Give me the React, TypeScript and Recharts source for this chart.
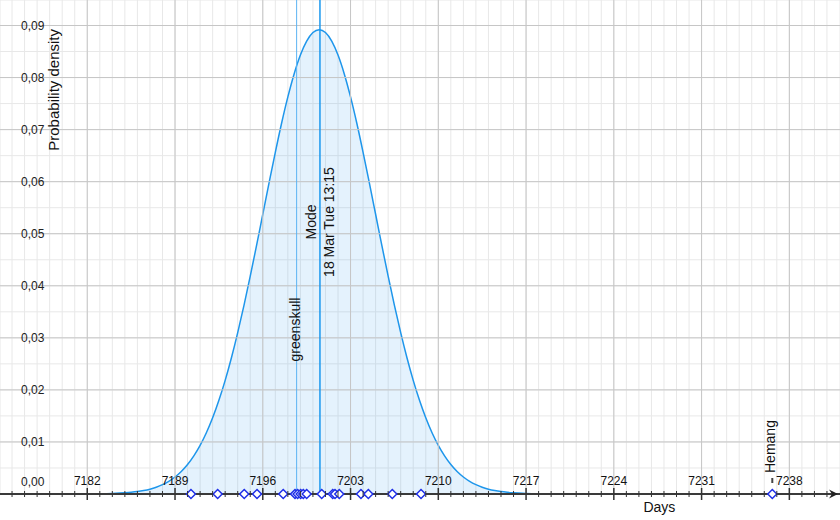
import {
  ComposedChart,
  Area,
  Scatter,
  XAxis,
  YAxis,
  CartesianGrid,
  ReferenceLine,
} from "recharts";

// density curve
const DAYS = [
  7182, 7183, 7184, 7185, 7185.5, 7186, 7186.5, 7187, 7187.5, 7188, 7188.5,
  7189, 7189.5, 7190, 7190.5, 7191, 7191.5, 7192, 7192.5, 7193, 7193.5, 7194,
  7194.5, 7195, 7195.5, 7196, 7196.5, 7197, 7197.5, 7198, 7198.5, 7199,
  7199.5, 7200, 7200.5, 7201, 7201.5, 7202, 7202.5, 7203, 7203.5, 7204,
  7204.5, 7205, 7205.5, 7206, 7206.5, 7207, 7207.5, 7208, 7208.5, 7209,
  7209.5, 7210, 7210.5, 7211, 7211.5, 7212, 7212.5, 7213, 7213.5, 7214,
  7214.5, 7215, 7215.5, 7216, 7217, 7218, 7219,
];
const DENSITY = [
  0.00002, 0.00004, 0.0001, 0.00022, 0.00032, 0.00046, 0.00066, 0.00093,
  0.0013, 0.00179, 0.00243, 0.00326, 0.00432, 0.00565, 0.00731, 0.00933,
  0.01176, 0.01463, 0.01799, 0.02183, 0.02618, 0.031, 0.03624, 0.04185,
  0.0477, 0.05374, 0.05976, 0.06564, 0.07122, 0.07628, 0.0807, 0.08432,
  0.087, 0.08865, 0.0892, 0.08865, 0.087, 0.08432, 0.0807, 0.07628, 0.07122,
  0.06564, 0.05976, 0.05374, 0.0477, 0.04185, 0.03624, 0.031, 0.02618,
  0.02183, 0.01799, 0.01463, 0.01176, 0.00933, 0.00731, 0.00565, 0.00432,
  0.00326, 0.00243, 0.00179, 0.0013, 0.00093, 0.00066, 0.00046, 0.00032,
  0.00022, 0.0001, 0.00004, 0.00002,
];

// individual guesses (diamonds on the axis)
const GUESS_DAYS = [
  7190.27, 7192.4, 7194.52, 7195.54, 7197.63, 7198.57, 7198.78, 7199.02,
  7199.23, 7199.5, 7200.7, 7201.58, 7201.76, 7202.1, 7203.83, 7204.42,
  7206.33, 7208.62, 7236.64,
];
const GUESS_NAMES = [
  "", "", "", "", "", "", "", "", "", "", "", "", "", "", "", "", "", "",
  "Hemang",
];

const LINE_DAYS = [7198.7, 7200.56];
const LINE_LABELS = [["greenskull"], ["Mode", "18 Mar Tue 13:15"]];
const LINE_COLORS = ["#5cb3f3", "#1b98ee"];

const MAJOR_DAYS = [7182, 7189, 7196, 7203, 7210, 7217, 7224, 7231, 7238];
const MINOR_DAYS = Array.from({ length: 66 }, (_, i) => 7176 + i);
const Y_TICKS = [
  0, 0.005, 0.01, 0.015, 0.02, 0.025, 0.03, 0.035, 0.04, 0.045, 0.05, 0.055,
  0.06, 0.065, 0.07, 0.075, 0.08, 0.085, 0.09,
];
const Y_MAJOR = [0.01, 0.02, 0.03, 0.04, 0.05, 0.06, 0.07, 0.08, 0.09];

const curveData = DAYS.map((d, i) => ({ day: d, density: DENSITY[i] }));
const guessData = GUESS_DAYS.map((d, i) => ({
  day: d,
  density: 0,
  name: GUESS_NAMES[i],
}));

const FONT = "'Liberation Sans', Arial, Helvetica, sans-serif";

function XTick({ x, y, payload }: any) {
  const major = MAJOR_DAYS.includes(payload.value);
  const h = major ? 6 : 3;
  return (
    <g>
      <line x1={x} x2={x} y1={y - h} y2={y + h} stroke="#333" strokeWidth={major ? 1.5 : 1} />
      {major && (
        <text x={x} y={y - 9} textAnchor="middle" fontSize={12} fill="#111">
          {payload.value}
        </text>
      )}
    </g>
  );
}

function YTick({ y, payload }: any) {
  const v = payload.value;
  const major = Math.abs(Math.round(v * 100) - v * 100) < 1e-6;
  if (!major) return <g />;
  return (
    <text x={21} y={v === 0 ? y - 8 : y + 4} textAnchor="start" fontSize={12} fill="#222">
      {v.toFixed(2).replace(".", ",")}
    </text>
  );
}

function GuessMark({ cx, cy, payload }: any) {
  const r = 4.5;
  return (
    <g>
      <polygon
        points={`${cx},${cy - r} ${cx + r},${cy} ${cx},${cy + r} ${cx - r},${cy}`}
        fill="#fff"
        stroke="#1f2fe8"
        strokeWidth={1.5}
      />
      {payload.name && (
        <g>
          <line x1={cx} x2={cx} y1={cy - 16} y2={cy - 11} stroke="#444" strokeWidth={2} />
          <text
            x={cx + 3}
            y={cy - 21}
            transform={`rotate(-90, ${cx + 3}, ${cy - 21})`}
            textAnchor="start"
            fontSize={14}
            fill="#111"
          >
            {payload.name}
          </text>
        </g>
      )}
    </g>
  );
}

function lineLabel(lines: string[]) {
  return ({ viewBox }: any) => {
    const x = viewBox.x;
    if (lines.length === 1) {
      const cy = 329.5;
      return (
        <text x={x + 3.5} y={cy} transform={`rotate(-90, ${x + 3.5}, ${cy})`} textAnchor="middle" fontSize={14} fill="#111">
          {lines[0]}
        </text>
      );
    }
    const cy = 222;
    return (
      <g>
        <text x={x - 3.5} y={cy} transform={`rotate(-90, ${x - 3.5}, ${cy})`} textAnchor="middle" fontSize={14} fill="#111">
          {lines[0]}
        </text>
        <text x={x + 14.5} y={cy} transform={`rotate(-90, ${x + 14.5}, ${cy})`} textAnchor="middle" fontSize={14} fill="#111">
          {lines[1]}
        </text>
      </g>
    );
  };
}

function DaysLabel({ viewBox }: any) {
  const { x, y, width } = viewBox;
  const end = x + width - 2;
  return (
    <g>
      <polygon points={`${end},${y} ${end - 9},${y - 4.5} ${end - 6},${y} ${end - 9},${y + 4.5}`} fill="#222" />
      <text x={x + width * 0.785} y={y + 18} textAnchor="middle" fontSize={14} fill="#111">
        Days
      </text>
    </g>
  );
}

function DensityLabel() {
  return (
    <text x={59} y={29} transform="rotate(-90, 59, 29)" textAnchor="end" fontSize={15} fill="#111">
      Probability density
    </text>
  );
}

export default function App() {
  return (
    <div style={{ position: "absolute", left: 0, top: 0, width: 840, height: 520, background: "#fff", fontFamily: FONT }}>
      <ComposedChart width={840} height={520} data={curveData} margin={{ top: 0, right: 0, bottom: 0, left: -1 }}>
        <CartesianGrid stroke="#e8e8e8" strokeWidth={1} />
        {MAJOR_DAYS.map((d) => (
          <ReferenceLine key={`vx${d}`} x={d} stroke="#c6c6c6" strokeWidth={1} />
        ))}
        {Y_MAJOR.map((v) => (
          <ReferenceLine key={`hy${v}`} y={v} stroke="#c6c6c6" strokeWidth={1} />
        ))}
        <XAxis
          dataKey="day"
          type="number"
          domain={[7175.04, 7242.04]}
          ticks={MINOR_DAYS}
          interval={0}
          height={26}
          tickLine={false}
          tickSize={0}
          tickMargin={0}
          axisLine={{ stroke: "#3a3a3a", strokeWidth: 2 }}
          tick={<XTick />}
          label={{ content: (p: any) => <DaysLabel {...p} /> }}
        />
        <YAxis
          dataKey="density"
          type="number"
          domain={[0, 0.0949]}
          ticks={Y_TICKS}
          interval={0}
          width={1}
          axisLine={false}
          tickLine={false}
          tickSize={0}
          tickMargin={0}
          tick={<YTick />}
          label={{ content: () => <DensityLabel /> }}
        />
        <Area
          type="monotone"
          dataKey="density"
          stroke="#1e96eb"
          strokeWidth={1.5}
          fill="#1e96eb"
          fillOpacity={0.12}
          dot={false}
          activeDot={false}
          isAnimationActive={false}
        />
        {LINE_DAYS.map((d, i) => (
          <ReferenceLine
            key={`l${i}`}
            x={d}
            stroke={LINE_COLORS[i]}
            strokeWidth={i === 1 ? 1.5 : 1}
            label={{ content: lineLabel(LINE_LABELS[i]) }}
          />
        ))}
        <Scatter data={guessData} dataKey="density" shape={(p: any) => <GuessMark {...p} />} isAnimationActive={false} />
      </ComposedChart>
    </div>
  );
}
